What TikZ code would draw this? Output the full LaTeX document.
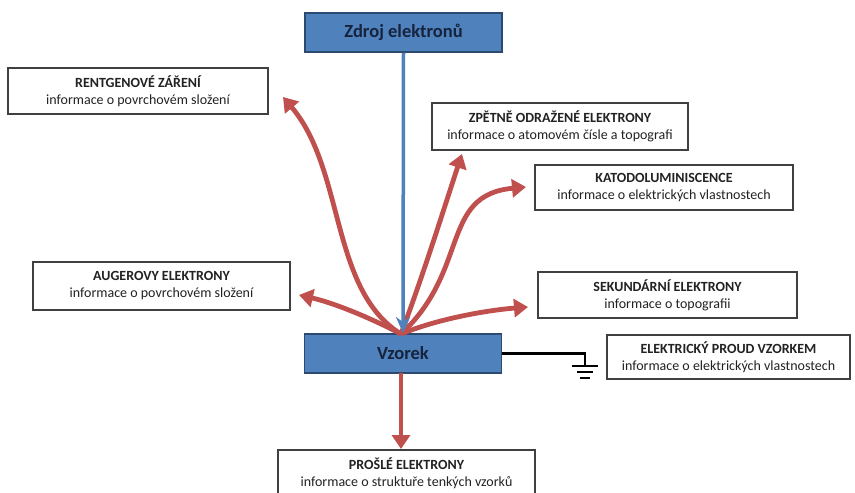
\documentclass[tikz,border=0pt]{standalone}
\usepackage{fontspec}
\setmainfont{Carlito}
\usetikzlibrary{arrows.meta}
\definecolor{boxblue}{HTML}{4F81BD}
\definecolor{boxedge}{HTML}{2C4A70}
\definecolor{navy}{HTML}{16233C}
\definecolor{arrred}{HTML}{C0504D}
\definecolor{txt}{HTML}{222222}
\tikzset{
  bluebox/.style={draw=boxedge,line width=1.8pt,fill=boxblue,minimum width=197pt,minimum height=39pt,inner sep=0pt,
    font=\fontsize{18.5}{20}\selectfont\bfseries,text=navy},
  infobox/.style={draw=black!75,line width=1.4pt,fill=white,inner sep=0pt,align=center,
    font=\fontsize{14}{17}\selectfont,text=txt},
  redarrow/.style={draw=arrred,line width=4.8pt,-{Triangle[length=14pt,width=18pt]}},
  bluearrow/.style={draw=boxblue,line width=3.5pt,-{Stealth[length=16pt,width=14pt,inset=5pt]}},
  ground/.style={black,line width=2.8pt},
}
\newcommand{\ttl}[1]{{\bfseries #1}}
\begin{document}
\begin{tikzpicture}[x=1pt,y=-1pt]
\useasboundingbox (0,0) rectangle (855,493);
% boxes
\node[bluebox] (zdroj) at (403.5,32.5) {Zdroj elektronů};
\node[bluebox] (vzorek) at (403,353.5) {Vzorek};
\node[infobox,minimum width=260pt,minimum height=46pt] (rtg) at (138,91) {\ttl{RENTGENOVÉ ZÁŘENÍ}\\informace o povrchovém složení};
\node[infobox,minimum width=256pt,minimum height=47pt] (bse) at (560,126.5) {\ttl{ZPĚTNĚ ODRAŽENÉ ELEKTRONY}\\informace o atomovém čísle a topografi};
\node[infobox,minimum width=258pt,minimum height=45pt] (cl) at (664,187.5) {\ttl{KATODOLUMINISCENCE}\\informace o elektrických vlastnostech};
\node[infobox,minimum width=257pt,minimum height=48pt] (aug) at (161.5,286) {\ttl{AUGEROVY ELEKTRONY}\\informace o povrchovém složení};
\node[infobox,minimum width=259pt,minimum height=46pt] (se) at (667.5,295) {\ttl{SEKUNDÁRNÍ ELEKTRONY}\\informace o topografii};
\node[infobox,minimum width=243pt,minimum height=44pt] (cur) at (728.5,357) {\ttl{ELEKTRICKÝ PROUD VZORKEM}\\informace o elektrických vlastnostech};
\node[infobox,minimum width=257pt,minimum height=46pt] (tem) at (406.5,473) {\ttl{PROŠLÉ ELEKTRONY}\\informace o struktuře tenkých vzorků};
% coordinates
\coordinate (base) at (401,334);
\coordinate (trtg) at (283,97);
\coordinate (tbse) at (462,154);
\coordinate (tcl) at (526,187);
\coordinate (taug) at (299,295);
\coordinate (tse) at (528,307);
\coordinate (vbot) at (401,373);
\coordinate (ttem) at (401,449);
% red arrows
\draw[redarrow] (base) .. controls (330,290) and (345,170) .. (trtg);
\draw[redarrow] (base) .. controls (425,270) and (445,205) .. (tbse);
\draw[redarrow] (base) .. controls (470,270) and (440,195) .. (tcl);
\draw[redarrow] (base) .. controls (365,315) and (330,302) .. (taug);
\draw[redarrow] (base) .. controls (440,318) and (490,310) .. (tse);
\draw[redarrow] (vbot) -- (ttem);
% blue arrow
\draw[bluearrow] (zdroj.south) -- (vzorek.north);
% ground
\coordinate (g) at (585,366);
\draw[ground] (vzorek.east) -- (585,353.5) -- (g);
\draw[ground] (572,366) -- (598,366);
\draw[ground] (577,372) -- (593,372);
\draw[ground] (580,378) -- (590,378);
\end{tikzpicture}
\end{document}
